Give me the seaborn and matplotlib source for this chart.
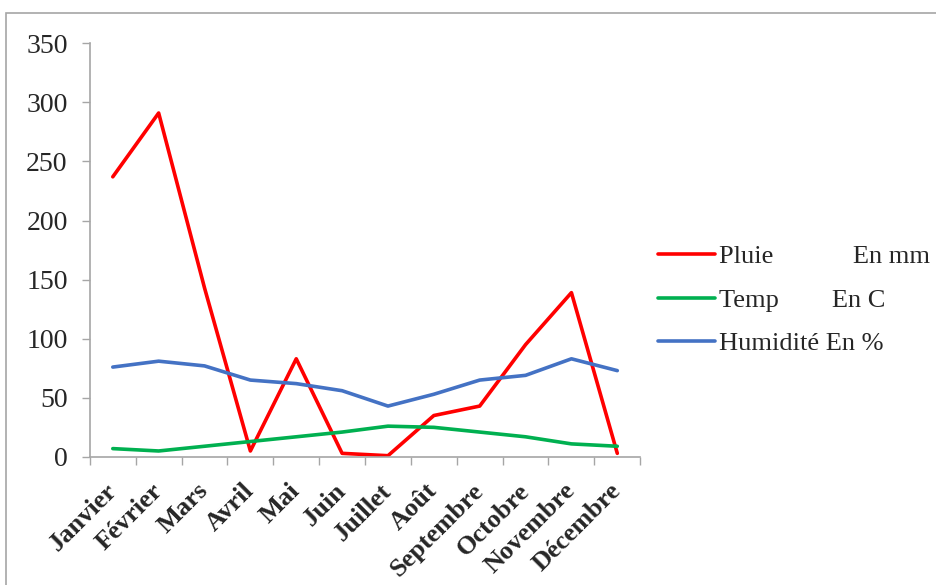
import matplotlib
matplotlib.use("Agg")
import matplotlib.pyplot as plt
from matplotlib.patches import Rectangle
from matplotlib.ticker import FixedLocator
from matplotlib.transforms import ScaledTranslation
import seaborn as sns
import pandas as pd

mois = ["Janvier", "Février", "Mars", "Avril", "Mai", "Juin", "Juillet",
        "Août", "Septembre", "Octobre", "Novembre", "Décembre"]
pluie = [237, 291, 143, 5, 83, 3, 1, 35, 43, 95, 139, 3]
temp = [7, 5, 9, 13, 17, 21, 26, 25, 21, 17, 11, 9]
humidite = [76, 81, 77, 65, 62, 56, 43, 53, 65, 69, 83, 73]

series = ["Pluie            En mm", "Temp        En C", "Humidité En %"]
couleurs = ["#FF0000", "#00B050", "#4472C4"]

df = pd.concat([
    pd.DataFrame({"mois": mois, "valeur": v, "serie": s})
    for s, v in zip(series, [pluie, temp, humidite])
])
df["mois"] = pd.Categorical(df["mois"], categories=mois, ordered=True)

sns.set_style("white")
plt.rcParams["font.family"] = ["Liberation Serif", "DejaVu Serif"]

fig = plt.figure(figsize=(9.36, 5.85), dpi=100)
ax = fig.add_axes([0.096, 0.219, 0.588, 0.707])

sns.lineplot(data=df, x="mois", y="valeur", hue="serie", hue_order=series,
             palette=couleurs, linewidth=2.6, sort=False, ax=ax)

ax.set_ylim(0, 350)
ax.set_xlim(-0.5, 11.5)
ax.set_yticks(range(0, 351, 50))
ax.set_xlabel("")
ax.set_ylabel("")

# category labels at centres, tick marks on the boundaries between them
ax.set_xticks(range(len(mois)))
ax.set_xticklabels(mois, rotation=45, ha="right", rotation_mode="anchor",
                   fontweight="bold", fontsize=19)
ax.tick_params(axis="x", which="major", length=0, pad=16)
shift = ScaledTranslation(-0.08, 0, fig.dpi_scale_trans)
for lbl in ax.get_xticklabels():
    lbl.set_transform(lbl.get_transform() + shift)
ax.xaxis.set_minor_locator(FixedLocator([i - 0.5 for i in range(len(mois) + 1)]))
ax.tick_params(axis="x", which="minor", length=6, width=1, color="#a6a6a6",
               direction="out", bottom=True)
ax.tick_params(axis="y", length=6, width=1, color="#a6a6a6", direction="out",
               left=True, labelsize=20, pad=10)

for side in ["top", "right"]:
    ax.spines[side].set_visible(False)
for side in ["left", "bottom"]:
    ax.spines[side].set_color("#a6a6a6")
    ax.spines[side].set_linewidth(1.2)

handles, labels = ax.get_legend_handles_labels()
ax.legend(handles, labels, loc="center left", bbox_to_anchor=(0.678, 0.487),
          bbox_transform=fig.transFigure, frameon=False, fontsize=19,
          handlelength=2.15, handletextpad=0.15, labelspacing=0.76)

# outer chart frame
fig.patches.append(Rectangle((0.006, -0.02), 1.1, 0.998, transform=fig.transFigure,
                             fill=False, edgecolor="#a6a6a6", linewidth=1.2))

fig.savefig("out.png", dpi=100)
